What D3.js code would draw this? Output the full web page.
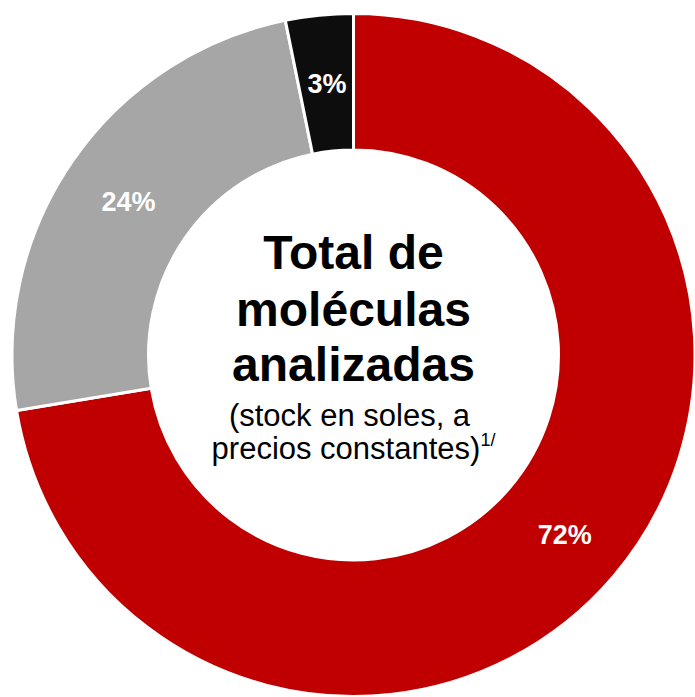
<!DOCTYPE html>
<html>
<head>
<meta charset="utf-8">
<script src="https://cdn.jsdelivr.net/npm/d3@7"></script>
<style>
html,body{margin:0;padding:0;background:#fff;}
svg{display:block;}
</style>
</head>
<body>
<svg id="chart" width="695" height="697"></svg>
<script>
const categories = ["A", "B", "C"];
const values = [72.4, 24.4, 3.2];
const labels = ["72%", "24%", "3%"];
const colors = ["#C00000", "#A6A6A6", "#0D0D0D"];
const titleLines = ["Total de", "moléculas", "analizadas"];
const subtitleLines = ["(stock en soles, a", "precios constantes)"];
const footnoteMark = "1/";

const svg = d3.select("#chart");
const cx = 353.5, cy = 355, outerR = 341.5, innerR = 205;
const g = svg.append("g").attr("transform", `translate(${cx},${cy})`);

const data = categories.map((c, i) => ({cat: c, value: values[i], label: labels[i], color: colors[i]}));
const pie = d3.pie().value(d => d.value).sort(null);
const arc = d3.arc().innerRadius(innerR).outerRadius(outerR);
const arcs = pie(data);

g.selectAll("path.slice").data(arcs).join("path")
  .attr("class", "slice")
  .attr("d", arc)
  .attr("fill", d => d.data.color)
  .attr("stroke", "#fff")
  .attr("stroke-width", 3)
  .attr("stroke-linejoin", "miter");

const font = "'Liberation Sans', Arial, sans-serif";
const labelOffset = [[3, 2], [0, 1], [1, 0]];
g.selectAll("text.lbl").data(arcs).join("text")
  .attr("class", "lbl")
  .attr("transform", (d, i) => { const c = arc.centroid(d); return `translate(${c[0] + labelOffset[i][0]},${c[1] + labelOffset[i][1]})`; })
  .attr("text-anchor", "middle")
  .attr("dy", "0.36em")
  .attr("fill", "#fff")
  .attr("font-family", font)
  .attr("font-weight", "bold")
  .attr("font-size", 27)
  .text(d => d.data.label);

const titleBase = [269, 326, 381];
titleLines.forEach((t, i) => {
  svg.append("text")
    .attr("x", cx).attr("y", titleBase[i])
    .attr("text-anchor", "middle")
    .attr("font-family", font)
    .attr("font-weight", "bold")
    .attr("font-size", 48)
    .attr("fill", "#000")
    .text(t);
});
const subBase = [426, 459];
svg.append("text")
  .attr("x", cx - 4).attr("y", subBase[0])
  .attr("text-anchor", "middle")
  .attr("font-family", font).attr("font-size", 31).attr("fill", "#000")
  .text(subtitleLines[0]);
const sub2 = svg.append("text")
  .attr("x", cx).attr("y", subBase[1])
  .attr("text-anchor", "middle")
  .attr("font-family", font).attr("font-size", 31).attr("fill", "#000");
sub2.append("tspan").text(subtitleLines[1]);
sub2.append("tspan").attr("dy", -13).attr("font-size", 18).text(footnoteMark);
</script>
</body>
</html>
